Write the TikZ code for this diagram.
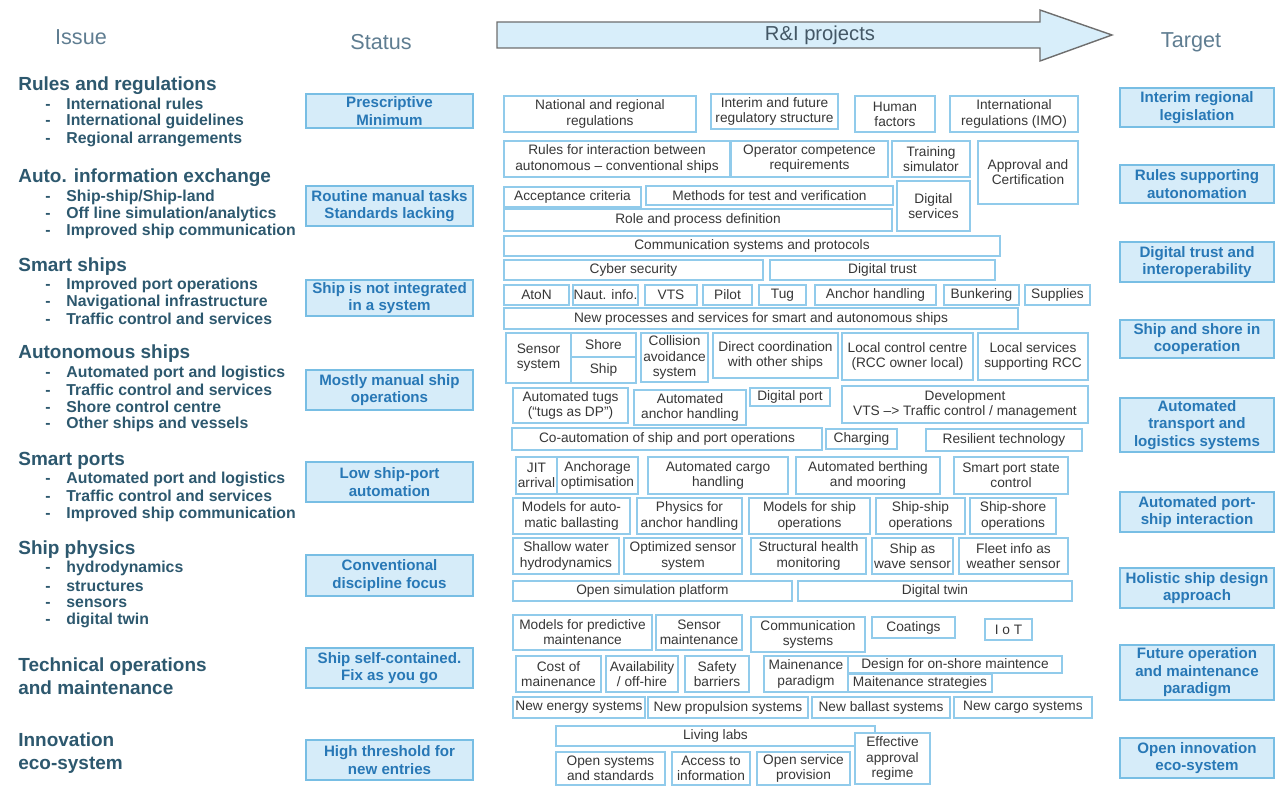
\documentclass[tikz,border=0pt]{standalone}
\usepackage{fontspec}
\setmainfont{Liberation Sans}
\usepackage{tikz}
\usetikzlibrary{positioning}

\definecolor{projline}{RGB}{145,203,235}
\definecolor{projtext}{RGB}{55,55,55}
\definecolor{statfill}{RGB}{214,236,249}
\definecolor{statline}{RGB}{120,190,228}
\definecolor{stattext}{RGB}{40,120,182}
\definecolor{issuetext}{RGB}{45,88,110}
\definecolor{headtext}{RGB}{95,125,145}
\definecolor{arrowfill}{RGB}{216,238,250}
\definecolor{arrowline}{RGB}{110,110,110}

\begin{document}
\begin{tikzpicture}[
    x=0.02cm, y=-0.02cm,
    spans/.style args={#1/#2/#3/#4}{at={({(#1+#3)/2},{(#2+#4)/2})}, minimum width={(#3-#1)*0.02cm}, minimum height={(#4-#2)*0.02cm}},
    proj/.style={draw=projline, line width=1.2pt, fill=white, inner sep=0pt, align=center, text=projtext, font=\fontsize{7.8}{8.6}\selectfont},
    stat/.style={draw=statline, line width=1.2pt, fill=statfill, inner sep=0pt, align=center, text=stattext, font=\bfseries\fontsize{8.6}{10}\selectfont},
    issuehead/.style={anchor=west, align=left, inner sep=0pt, text=issuetext, font=\bfseries\fontsize{10.8}{13}\selectfont},
    issueitem/.style={anchor=west, inner sep=0pt, text=issuetext, font=\bfseries\fontsize{9}{10}\selectfont},
    colhead/.style={inner sep=0pt, text=headtext, font=\fontsize{12.3}{14}\selectfont}
]
\useasboundingbox (0,0) rectangle (1276,787);

% column heads and the R&I arrow
\node[colhead] (issue) at (81,37) {Issue};
\node[colhead] (status) at (381,42) {Status};
\node[colhead] (target) at (1191,42) {Target};
\draw[draw=arrowline, fill=arrowfill, line width=0.8pt]
    (497,22) -- (1040,22) -- (1040,10) -- (1112,35) -- (1040,61) -- (1040,48) -- (497,48) -- cycle;
\node[inner sep=0pt, text=headtext!70!black, font=\fontsize{11.5}{14}\selectfont] (rip) at (820,35) {R\&I projects};

% issues
\node[issuehead] (rules) at (18,86) {Rules and regulations};
\node[issueitem] (rules1) at (45,104) {-\quad International rules};
\node[issueitem] (rules2) at (45,121) {-\quad International guidelines};
\node[issueitem] (rules3) at (45,139) {-\quad Regional arrangements};

\node[issuehead] (info) at (18,178) {Auto. information exchange};
\node[issueitem] (info1) at (45,197) {-\quad Ship-ship/Ship-land};
\node[issueitem] (info2) at (45,214) {-\quad Off line simulation/analytics};
\node[issueitem] (info3) at (45,231) {-\quad Improved ship communication};

\node[issuehead] (smship) at (18,267) {Smart ships};
\node[issueitem] (smship1) at (45,285) {-\quad Improved port operations};
\node[issueitem] (smship2) at (45,302) {-\quad Navigational infrastructure};
\node[issueitem] (smship3) at (45,319) {-\quad Traffic control and services};

\node[issuehead] (auto) at (18,354) {Autonomous ships};
\node[issueitem] (auto1) at (45,373) {-\quad Automated port and logistics};
\node[issueitem] (auto2) at (45,390) {-\quad Traffic control and services};
\node[issueitem] (auto3) at (45,407) {-\quad Shore control centre};
\node[issueitem] (auto4) at (45,424) {-\quad Other ships and vessels};

\node[issuehead] (smport) at (18,461) {Smart ports};
\node[issueitem] (smport1) at (45,479) {-\quad Automated port and logistics};
\node[issueitem] (smport2) at (45,496) {-\quad Traffic control and services};
\node[issueitem] (smport3) at (45,514) {-\quad Improved ship communication};

\node[issuehead] (phys) at (18,550) {Ship physics};
\node[issueitem] (phys1) at (45,568) {-\quad hydrodynamics};
\node[issueitem] (phys2) at (45,586) {-\quad structures};
\node[issueitem] (phys3) at (45,603) {-\quad sensors};
\node[issueitem] (phys4) at (45,620) {-\quad digital twin};

\node[issuehead] (techops) at (18,676) {Technical operations\\and maintenance};
\node[issuehead] (innov) at (18,753) {Innovation\\eco-system};

% status
\node[stat, spans=306/94/473/128] (st1) {Prescriptive\\Minimum};
\node[stat, spans=306/186/473/226] (st2) {Routine manual tasks\\Standards lacking};
\node[stat, spans=306/280/473/316] (st3) {Ship is not integrated\\in a system};
\node[stat, spans=306/370/473/410] (st4) {Mostly manual ship\\operations};
\node[stat, spans=306/462/473/502] (st5) {Low ship-port\\automation};
\node[stat, spans=306/555/473/596] (st6) {Conventional\\discipline focus};
\node[stat, spans=306/648/473/688] (st7) {Ship self-contained.\\Fix as you go};
\node[stat, spans=306/740/473/780] (st8) {High threshold for\\new entries};

% targets
\node[stat, spans=1120/88/1274/127] (tg1) {Interim regional\\legislation};
\node[stat, spans=1120/165/1274/203] (tg2) {Rules supporting\\autonomation};
\node[stat, spans=1120/242/1274/282] (tg3) {Digital trust and\\interoperability};
\node[stat, spans=1120/320/1274/358] (tg4) {Ship and shore in\\cooperation};
\node[stat, spans=1120/398/1274/452] (tg5) {Automated\\transport and\\logistics systems};
\node[stat, spans=1120/492/1274/532] (tg6) {Automated port-\\ship interaction};
\node[stat, spans=1120/568/1274/608] (tg7) {Holistic ship design\\approach};
\node[stat, spans=1120/645/1274/700] (tg8) {Future operation\\and maintenance\\paradigm};
\node[stat, spans=1120/738/1274/778] (tg9) {Open innovation\\eco-system};

% R&I projects
\node[proj, spans=504/96/696/132] (natreg) {National and regional\\regulations};
\node[proj, spans=711/94/838/129] (interim) {Interim and future\\regulatory structure};
\node[proj, spans=855/96/935/132] (human) {Human\\factors};
\node[proj, spans=950/96/1078/132] (imo) {International\\regulations (IMO)};

\node[proj, spans=504/141/730/177] (interact) {Rules for interaction between\\autonomous -- conventional ships};
\node[proj, spans=731/141/888/177] (opcomp) {Operator competence\\requirements};
\node[proj, spans=892/141/970/177] (training) {Training\\simulator};
\node[proj, spans=978/141/1078/204] (approval) {Approval and\\Certification};

\node[proj, spans=504/187/641/207] (accept) {Acceptance criteria};
\node[proj, spans=646/186/893/205] (methods) {Methods for test and verification};
\node[proj, spans=897/181/970/231] (digserv) {Digital\\services};
\node[proj, spans=504/209/892/231] (role) {Role and process definition};

\node[proj, spans=504/236/1000/256] (comm) {Communication systems and protocols};
\node[proj, spans=504/260/763/280] (cyber) {Cyber security};
\node[proj, spans=770/260/995/280] (dtrust) {Digital trust};

\node[proj, spans=504/285/569/305] (aton) {AtoN};
\node[proj, spans=573/285/638/305] (naut) {Naut. info.};
\node[proj, spans=645/285/697/305] (vts) {VTS};
\node[proj, spans=703/285/752/305] (pilot) {Pilot};
\node[proj, spans=759/285/806/305] (tug) {Tug};
\node[proj, spans=815/285/936/305] (anchor) {Anchor handling};
\node[proj, spans=944/285/1019/305] (bunker) {Bunkering};
\node[proj, spans=1025/285/1090/305] (supplies) {Supplies};

\node[proj, spans=504/308/1018/329] (newproc) {New processes and services for smart and autonomous ships};

\node[proj, spans=506/333/571/383] (sensor) {Sensor\\system};
\node[proj, spans=571/333/636/357] (shore) {Shore};
\node[proj, spans=571/357/636/383] (ship) {Ship};
\node[proj, spans=641/333/708/382] (collision) {Collision\\avoidance\\system};
\node[proj, spans=713/333/838/378] (direct) {Direct coordination\\with other ships};
\node[proj, spans=842/333/973/380] (localcc) {Local control centre\\(RCC owner local)};
\node[proj, spans=978/333/1088/380] (localserv) {Local services\\supporting RCC};

\node[proj, spans=513/388/628/423] (autotugs) {Automated tugs\\(“tugs as DP”)};
\node[proj, spans=634/390/746/425] (autoanchor) {Automated\\anchor handling};
\node[proj, spans=750/388/830/406] (digport) {Digital port};
\node[proj, spans=842/386/1088/423] (devvts) {Development\\VTS --> Traffic control / management};

\node[proj, spans=512/428/822/450] (coauto) {Co-automation of ship and port operations};
\node[proj, spans=826/429/897/449] (charging) {Charging};
\node[proj, spans=926/429/1082/451] (resilient) {Resilient technology};

\node[proj, spans=516/457/557/494] (jit) {JIT\\arrival};
\node[proj, spans=557/457/638/494] (anchorage) {Anchorage\\optimisation};
\node[proj, spans=648/457/788/494] (cargo) {Automated cargo\\handling};
\node[proj, spans=796/457/940/494] (berthing) {Automated berthing\\and mooring};
\node[proj, spans=954/457/1068/494] (psc) {Smart port state\\control};

\node[proj, spans=513/498/630/534] (ballast) {Models for auto-\\matic ballasting};
\node[proj, spans=637/498/742/534] (physanchor) {Physics for\\anchor handling};
\node[proj, spans=749/498/870/534] (shipops) {Models for ship\\operations};
\node[proj, spans=876/498/965/534] (shipship) {Ship-ship\\operations};
\node[proj, spans=970/498/1056/534] (shipshore) {Ship-shore\\operations};

\node[proj, spans=513/538/619/574] (shallow) {Shallow water\\hydrodynamics};
\node[proj, spans=624/538/742/574] (optsensor) {Optimized sensor\\system};
\node[proj, spans=751/538/866/574] (health) {Structural health\\monitoring};
\node[proj, spans=872/538/953/574] (wave) {Ship as\\wave sensor};
\node[proj, spans=959/538/1068/574] (fleet) {Fleet info as\\weather sensor};

\node[proj, spans=513/581/792/601] (opensim) {Open simulation platform};
\node[proj, spans=798/581/1072/601] (dtwin) {Digital twin};

\node[proj, spans=513/615/652/650] (predict) {Models for predictive\\maintenance};
\node[proj, spans=656/615/742/650] (sensmaint) {Sensor\\maintenance};
\node[proj, spans=751/617/865/652] (commsys) {Communication\\systems};
\node[proj, spans=872/617/955/638] (coatings) {Coatings};
\node[proj, spans=985/619/1032/640] (iot) {I o T};

\node[proj, spans=516/656/601/692] (cost) {Cost of\\mainenance};
\node[proj, spans=606/656/678/692] (avail) {Availability\\/ off-hire};
\node[proj, spans=685/656/749/692] (safety) {Safety\\barriers};
\node[proj, spans=764/656/848/692] (paradigm) {Mainenance\\paradigm};
\node[proj, spans=848/656/1062/673] (design) {Design for on-shore maintence};
\node[proj, spans=848/674/992/692] (strateg) {Maitenance strategies};

\node[proj, spans=513/697/645/718] (energy) {New energy systems};
\node[proj, spans=648/697/808/718] (propul) {New propulsion systems};
\node[proj, spans=812/697/950/718] (newballast) {New ballast systems};
\node[proj, spans=954/697/1092/718] (newcargo) {New cargo systems};

\node[proj, spans=556/726/875/746] (living) {Living labs};
\node[proj, spans=556/752/665/785] (opensys) {Open systems\\and standards};
\node[proj, spans=672/752/750/785] (access) {Access to\\information};
\node[proj, spans=757/752/850/785] (openserv) {Open service\\provision};
\node[proj, spans=855/733/930/784] (effective) {Effective\\approval\\regime};
\end{tikzpicture}
\end{document}
